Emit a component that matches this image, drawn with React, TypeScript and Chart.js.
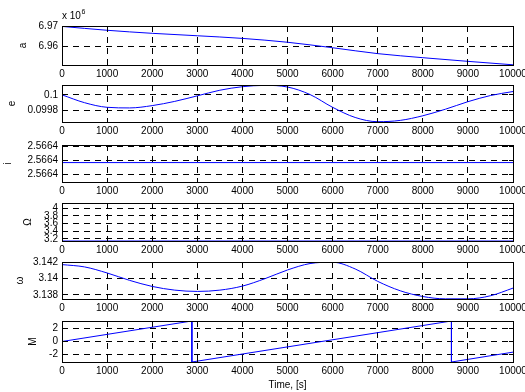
import React, { useEffect, useRef } from 'react';
import { Chart, registerables } from 'chart.js';

Chart.register(...registerables);

const FONT_FAMILY = 'Liberation Sans, Arial, sans-serif';

// ---- shared time axis ----
const timeTicks = [0, 1000, 2000, 3000, 4000, 5000, 6000, 7000, 8000, 9000, 10000];
const timeTickLabels = ['0', '1000', '2000', '3000', '4000', '5000', '6000', '7000', '8000', '9000', '10000'];

// ---- a (x 10^6) ----
const aTime = [0, 1000, 2000, 3000, 4000, 5000, 6000, 7000, 8000, 9000, 10000];
const aValues = [6.9698, 6.9679, 6.9664, 6.9652, 6.9639, 6.962, 6.9593, 6.9564, 6.9544, 6.9526, 6.9509];
const aRange = [6.9508, 6.97];
const aTicks = [6.96, 6.97];
const aTickLabels = ['6.96', '6.97'];

// ---- e ----
const eTime = [0, 500, 1000, 1500, 2000, 2500, 3000, 3500, 4000, 4500, 5000, 5500, 6000, 6500, 7000, 7500, 8000, 8500, 9000, 9500, 10000];
const eValues = [0.1, 0.099898, 0.099838, 0.09983, 0.09986, 0.099915, 0.099987, 0.10006, 0.100106, 0.100123, 0.100102, 0.100004, 0.099838, 0.099706, 0.099651, 0.099668, 0.099728, 0.099813, 0.099911, 0.099991, 0.100043];
const eRange = [0.099647, 0.100128];
const eTicks = [0.0998, 0.1];
const eTickLabels = ['0.0998', '0.1'];

// ---- i ----
const iTime = [0, 10000];
const iValues = [2.56639984, 2.56639984];
const iRange = [2.56639847, 2.56640108];
const iTicks = [2.566399, 2.5664, 2.566401];
const iTickLabels = ['2.5664', '2.5664', '2.5664'];

// ---- Omega ----
const OmTime = [0, 10000];
const OmValues = [3.14159, 3.14159];
const OmRange = [3.14159, 4.14159];
const OmTicks = [3.2, 3.4, 3.6, 3.8, 4];
const OmTickLabels = ['3.2', '3.4', '3.6', '3.8', '4'];

// ---- omega ----
const omTime = [0, 500, 1000, 1500, 2000, 2500, 3000, 3500, 4000, 4500, 5000, 5500, 6000, 6500, 7000, 7500, 8000, 8500, 9000, 9500, 10000];
const omValues = [3.14175, 3.14146, 3.14071, 3.13979, 3.13904, 3.13858, 3.13842, 3.13858, 3.13908, 3.14, 3.14108, 3.14188, 3.14204, 3.14121, 3.13967, 3.1385, 3.13779, 3.1375, 3.1375, 3.13788, 3.13883];
const omRange = [3.13748, 3.14207];
const omTicks = [3.138, 3.14, 3.142];
const omTickLabels = ['3.138', '3.14', '3.142'];

// ---- M ----
const MTime = [0, 2880, 2880, 8635, 8635, 10000];
const MValues = [0, 3.1416, -3.1416, 3.1416, -3.1416, -1.63];
const MRange = [-3.14159, 3.14159];
const MTicks = [-2, 0, 2];
const MTickLabels = ['-2', '0', '2'];

type Spec = {
  label: string;
  time: number[];
  values: number[];
  range: number[];
  ticks: number[];
  tickLabels: string[];
  smooth: boolean;
};

const specs: Spec[] = [
  { label: 'a', time: aTime, values: aValues, range: aRange, ticks: aTicks, tickLabels: aTickLabels, smooth: true },
  { label: 'e', time: eTime, values: eValues, range: eRange, ticks: eTicks, tickLabels: eTickLabels, smooth: true },
  { label: 'i', time: iTime, values: iValues, range: iRange, ticks: iTicks, tickLabels: iTickLabels, smooth: false },
  { label: 'Ω', time: OmTime, values: OmValues, range: OmRange, ticks: OmTicks, tickLabels: OmTickLabels, smooth: false },
  { label: 'ω', time: omTime, values: omValues, range: omRange, ticks: omTicks, tickLabels: omTickLabels, smooth: true },
  { label: 'M', time: MTime, values: MValues, range: MRange, ticks: MTicks, tickLabels: MTickLabels, smooth: false },
];

// layout (pixels)
const W = 525;
const PLOT_LEFT = 62;
const PLOT_RIGHT_PAD = 12;
const plotTops = [26, 85, 145, 203, 262, 321];
const plotBottoms = [65, 122, 182, 241, 299, 362];
const ylabelX = [23, 12, 8.5, 28.5, 20, 33];
const X_AXIS_H = 18;
const LAST_X_AXIS_H = 30;
const DASH = [6, 5];
const TICK_LEN = 4.5;

const font = { family: FONT_FAMILY, size: 10 };

const boxPlugin = {
  id: 'matlabBox',
  afterDraw(chart: any, _args: any, opts: any) {
    const { ctx, chartArea, scales } = chart;
    const { left, right, top, bottom } = chartArea;
    const al = (p: number) => Math.round(p - 0.5) + 0.5;
    ctx.save();
    ctx.setLineDash([]);
    ctx.strokeStyle = '#000';
    ctx.lineWidth = 1;
    const L = al(left), R = al(right), T = al(top), B = al(bottom);
    ctx.strokeRect(L, T, R - L, B - T);
    ctx.beginPath();
    for (const t of scales.x.ticks) {
      const px = al(scales.x.getPixelForValue(t.value));
      ctx.moveTo(px, T);
      ctx.lineTo(px, T + TICK_LEN);
      ctx.moveTo(px, B);
      ctx.lineTo(px, B - TICK_LEN);
    }
    for (const t of scales.y.ticks) {
      const py = al(scales.y.getPixelForValue(t.value));
      ctx.moveTo(L, py);
      ctx.lineTo(L + TICK_LEN, py);
      ctx.moveTo(R, py);
      ctx.lineTo(R - TICK_LEN, py);
    }
    ctx.stroke();
    if (opts && opts.exponent) {
      ctx.fillStyle = '#000';
      ctx.textAlign = 'left';
      ctx.textBaseline = 'alphabetic';
      ctx.font = `10px ${FONT_FAMILY}`;
      const base = 'x 10';
      ctx.fillText(base, left, top - 7);
      const w = ctx.measureText(base).width;
      ctx.font = `7px ${FONT_FAMILY}`;
      ctx.fillText(opts.exponent, left + w + 0.5, top - 12.5);
    }
    ctx.restore();
  },
};

function SubPlot({ spec, index }: { spec: Spec; index: number }) {
  const ref = useRef<HTMLCanvasElement>(null);
  const last = index === specs.length - 1;
  const plotTop = plotTops[index];
  const plotBottom = plotBottoms[index];
  const padTop = index === 0 ? plotTop : 8;
  const xH = last ? LAST_X_AXIS_H : X_AXIS_H;
  const height = padTop + (plotBottom - plotTop) + xH;
  const canvasTop = plotTop - padTop;

  useEffect(() => {
    const canvas = ref.current!;
    const chart = new Chart(canvas, {
      type: 'line',
      data: {
        datasets: [
          {
            data: spec.time.map((x, i) => ({ x, y: spec.values[i] })),
            borderColor: '#0000ff',
            borderWidth: 1,
            pointRadius: 0,
            fill: false,
            tension: 0,
            cubicInterpolationMode: spec.smooth ? 'monotone' : 'default',
          } as any,
        ],
      },
      options: {
        animation: false,
        responsive: false,
        devicePixelRatio: 1,
        layout: { padding: { top: padTop, right: PLOT_RIGHT_PAD, bottom: 0, left: 0 } },
        plugins: {
          legend: { display: false },
          tooltip: { enabled: false },
          matlabBox: { exponent: index === 0 ? '6' : '' },
        } as any,
        scales: {
          x: {
            type: 'linear',
            min: 0,
            max: 10000,
            bounds: 'data',
            afterBuildTicks: (s: any) => {
              s.ticks = timeTicks.map((v) => ({ value: v }));
            },
            afterFit: (s: any) => {
              s.height = xH;
              s.paddingLeft = 0;
              s.paddingRight = 0;
            },
            ticks: {
              autoSkip: false,
              maxRotation: 0,
              minRotation: 0,
              padding: 3,
              color: '#000',
              font,
              callback: (_v: any, i: number) => timeTickLabels[i],
            },
            grid: { color: '#000', lineWidth: 1, drawTicks: false },
            border: { display: false, dash: DASH },
            title: last
              ? { display: true, text: 'Time, [s]', color: '#000', font, padding: { top: 0, bottom: 1 } }
              : { display: false },
          } as any,
          y: {
            type: 'linear',
            min: spec.range[0],
            max: spec.range[1],
            bounds: 'data',
            afterBuildTicks: (s: any) => {
              s.ticks = spec.ticks.map((v) => ({ value: v }));
            },
            afterFit: (s: any) => {
              s.width = PLOT_LEFT;
              s.paddingTop = 0;
              s.paddingBottom = 0;
            },
            ticks: {
              autoSkip: false,
              padding: 4,
              color: '#000',
              font,
              callback: (_v: any, i: number) => spec.tickLabels[i],
            },
            grid: { color: '#000', lineWidth: 1, drawTicks: false },
            border: { display: false, dash: DASH },
            title: {
              display: true,
              text: spec.label,
              color: '#000',
              font,
              padding: { top: ylabelX[index] - 6, bottom: 0 },
            },
          } as any,
        },
      },
      plugins: [boxPlugin],
    } as any);
    return () => chart.destroy();
  }, []);

  return (
    <canvas
      ref={ref}
      width={W}
      height={height}
      style={{ position: 'absolute', left: 0, top: canvasTop, width: W, height }}
    />
  );
}

export default function App() {
  return (
    <div
      style={{
        position: 'absolute',
        left: 0,
        top: 0,
        width: W,
        height: 392,
        background: '#fff',
        overflow: 'hidden',
      }}
    >
      {specs.map((s, i) => (
        <SubPlot key={i} spec={s} index={i} />
      ))}
    </div>
  );
}
